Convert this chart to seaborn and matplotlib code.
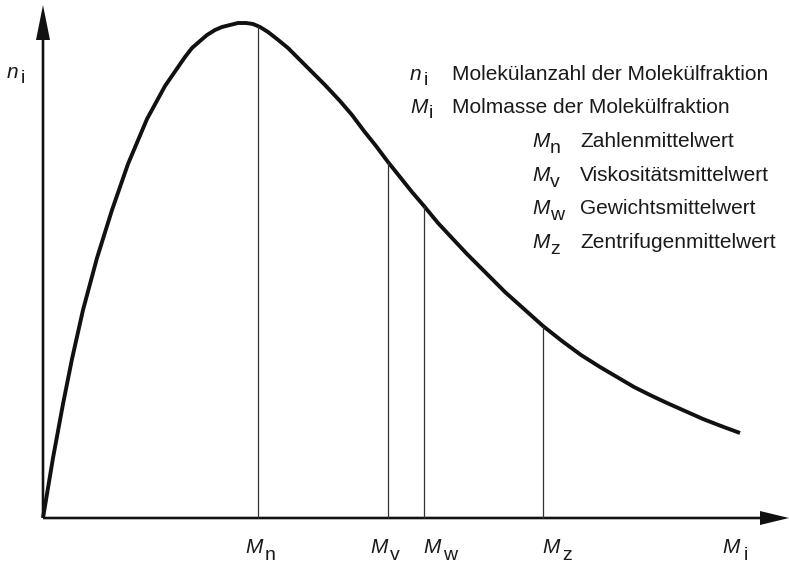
import matplotlib
matplotlib.use("Agg")
import matplotlib.pyplot as plt
import pandas as pd
import seaborn as sns

# distribution curve n_i over M_i (arbitrary units)
curve_M = [0, 10, 20, 29, 40, 54, 69, 85, 104, 122, 142, 149, 157, 164, 172,
           179, 187, 195, 203, 210, 217, 225, 234, 245, 256, 267, 282, 297, 309,
           321, 333, 345, 357, 369, 381, 395, 409, 424, 443, 462, 481, 500, 519,
           538, 557, 574, 591, 607, 624, 642, 660, 678, 697]
curve_n = [0, 60, 114, 159, 208, 260, 308, 354, 399, 432, 461, 470, 477, 483, 488,
           491, 493, 495, 495, 494, 491, 486, 479, 470, 459, 448, 433, 417, 403,
           387, 372, 356, 341, 326, 312, 295, 280, 264, 245, 226, 209, 192, 177,
           163, 151, 141, 131, 123, 115, 107, 99, 92, 85]

# averages: index letter, position on M axis, height of curve there
mean_sub = ['n', 'v', 'w', 'z']
mean_M = [215, 345, 381, 500]
mean_n = [492, 356, 312, 192]
mean_label_x = [202, 327, 380, 499]

legend_sym = ['n', 'M', 'M', 'M', 'M', 'M']
legend_sub = ['i', 'i', 'n', 'v', 'w', 'z']
legend_text = ['Molekülanzahl der Molekülfraktion', 'Molmasse der Molekülfraktion',
               'Zahlenmittelwert', 'Viskositätsmittelwert',
               'Gewichtsmittelwert', 'Zentrifugenmittelwert']

sns.set_style("white")
plt.rcParams['font.family'] = ['Liberation Sans', 'DejaVu Sans']

fig = plt.figure(figsize=(7.89, 5.64), dpi=100)
ax = fig.add_axes([0, 0, 1, 1])
ax.set_xlim(-43, 746)
ax.set_ylim(-46, 518)
ax.axis('off')

df = pd.DataFrame({'M': curve_M, 'n': curve_n})
sns.lineplot(data=df, x='M', y='n', ax=ax, color='#111111', lw=2.8,
             sort=False, solid_capstyle='butt', solid_joinstyle='round')

ax.vlines(mean_M, 0, mean_n, color='#333333', lw=0.9)

# axes with arrow heads
ax.arrow(0, 0, 0, 513, width=2.6, head_width=14, head_length=35,
         length_includes_head=True, color='#111111', lw=0)
ax.arrow(0, 0, 746, 0, width=2.6, head_width=14, head_length=29,
         length_includes_head=True, color='#111111', lw=0)

FS = 15
SFS = 14


def sym(x, y, main, sub, dx=20, dy=6):
    ax.text(x, y, main, fontsize=FS, style='italic', va='baseline', ha='left',
            color='#1a1a1a')
    ax.text(x + dx, y - dy, sub, fontsize=SFS, va='baseline', ha='left',
            color='#1a1a1a')


# axis labels
sym(-36, 440, 'n', 'i', dx=14, dy=5)
sym(679, -35, 'M', 'i', dx=22, dy=7)

# labels of the averages
for s, lx in zip(mean_sub, mean_label_x):
    sym(lx, -35, 'M', s, dx=20, dy=7)

# legend text
rows_y = [438, 405, 371, 337, 304, 270]
for i, (m, s, t) in enumerate(zip(legend_sym, legend_sub, legend_text)):
    if i < 2:
        sym(367, rows_y[i], m, s, dx=14 if m == 'n' else 19, dy=5)
        ax.text(409, rows_y[i], t, fontsize=FS, va='baseline', color='#1a1a1a')
    else:
        sym(489, rows_y[i], m, s, dx=18, dy=6)
        ax.text(537, rows_y[i], t, fontsize=FS, va='baseline', color='#1a1a1a')

fig.savefig('out.png', dpi=100)
